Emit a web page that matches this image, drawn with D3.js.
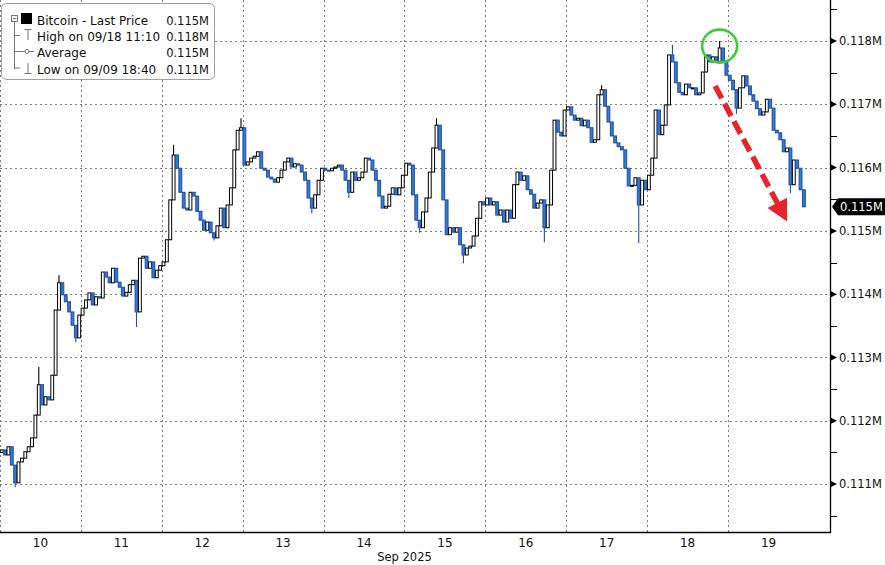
<!DOCTYPE html>
<html><head><meta charset="utf-8">
<script src="https://cdn.jsdelivr.net/npm/d3@7/dist/d3.min.js"></script>
<style>
body{margin:0;background:#fff}
svg{display:block}
text{font-family:"DejaVu Sans",Verdana,sans-serif;fill:#111}
</style>
</head><body>
<svg id="chart" width="885" height="565"></svg>
<script>
// ---------- data (prices in thousands of USD, hourly bars) ----------
const dayLabels = ["10","11","12","13","14","15","16","17","18","19"];
const monthLabel = "Sep 2025";
const firstOpen = 111.50;
const closes = [
111.54,111.46,111.59,111.30,111.02,111.35,111.41,111.51,111.59,111.73,112.09,112.57,
112.25,112.38,112.33,112.72,113.75,114.18,113.99,113.88,113.72,113.51,113.31,113.67,
113.78,113.91,114.02,113.83,113.96,113.94,114.35,114.27,114.18,114.41,114.19,114.11,
113.97,114.03,114.15,114.22,113.72,114.57,114.60,114.41,114.51,114.26,114.38,114.45,
114.51,114.86,115.49,116.20,115.99,115.61,115.36,115.33,115.61,115.55,115.31,115.17,
115.01,115.14,114.97,114.89,115.08,115.36,115.05,115.41,115.68,116.28,116.59,116.63,
116.04,116.09,116.15,116.18,116.25,115.99,115.96,115.85,115.82,115.77,115.84,115.96,
116.09,116.15,116.01,116.06,116.04,115.93,115.80,115.52,115.36,115.57,115.80,115.99,
115.96,115.95,115.99,116.01,116.04,115.96,115.80,115.61,115.93,115.80,115.84,115.93,
116.15,116.12,115.96,115.80,115.55,115.36,115.39,115.58,115.68,115.57,115.68,115.88,
116.07,116.04,115.57,115.17,115.05,115.30,115.52,115.93,116.31,116.67,116.28,115.49,
114.94,115.05,114.98,115.05,114.78,114.62,114.73,114.76,114.92,115.20,115.46,115.41,
115.52,115.41,115.46,115.25,115.33,115.14,115.33,115.20,115.73,115.93,115.80,115.87,
115.65,115.58,115.36,115.44,115.49,115.05,115.41,115.96,116.75,116.56,116.50,116.91,
116.96,116.83,116.75,116.78,116.66,116.75,116.63,116.40,116.44,117.15,117.23,116.97,
116.72,116.50,116.39,116.33,116.28,115.99,115.71,115.72,115.84,115.41,115.80,115.65,
115.88,116.15,116.91,116.52,116.67,116.99,117.78,117.67,117.34,117.19,117.15,117.32,
117.26,117.26,117.15,117.18,117.51,117.78,117.67,117.75,117.67,117.89,117.67,117.46,
117.38,117.23,116.94,117.26,117.45,117.29,117.15,117.05,116.93,116.83,116.88,117.08,
116.94,116.59,116.55,116.44,116.25,116.31,115.73,116.12,115.99,115.65,115.38
];
// bars with visible wicks beyond the body
const spikeIdx  = [4, 11, 17, 22, 40, 51, 63, 71, 92, 103, 124, 129, 137, 161, 178, 189, 199, 213, 218, 234];
const spikeHigh = [null,112.85,114.30,null,null,116.36,null,116.78,null,null,null,116.78,null,null,117.30,null,117.94,118.00,null,null];
const spikeLow  = [110.95,null,null,113.24,113.48,null,114.85,null,115.28,115.52,114.97,null,114.49,114.82,null,114.81,null,null,116.85,115.60];
const yTickValues = [111,112,113,114,115,116,117,118];
const yMinorValues = [110.5,111.5,112.5,113.5,114.5,115.5,116.5,117.5,118.5];
const lastPrice = 115.38;
const legendNames  = ["Bitcoin - Last Price","High on 09/18 11:10","Average","Low on 09/09 18:40"];
const legendValues = ["0.115M","0.118M","0.115M","0.111M"];
const circleAt = [213, 117.92];      // bar index, price
const arrowFrom = [8.84, 117.29];    // days, price
const arrowTo   = [9.73, 115.15];

// ---------- build ----------
const bars = closes.map((c,i)=>{
  const o = i===0 ? firstOpen : closes[i-1];
  let h = Math.max(o,c), l = Math.min(o,c);
  const k = spikeIdx.indexOf(i);
  if(k>=0){ if(spikeHigh[k]!=null) h=Math.max(h,spikeHigh[k]); if(spikeLow[k]!=null) l=Math.min(l,spikeLow[k]); }
  return {t:(i+0.5)/24, o, h, l, c};
});

const plotR = 830, plotB = 532;
const svg = d3.select("#chart");
const x = d3.scaleLinear().domain([0, 10.26]).range([0, plotR]);
const y = d3.scaleLinear().domain([110.243, 118.648]).range([plotB, 0]);
const fmt = v => (v/1000).toFixed(3) + "M";

// grid
const grid = svg.append("g").attr("stroke","#7d7d7d").attr("stroke-width",1).attr("stroke-dasharray","2,3");
grid.selectAll("line.h").data(yTickValues).join("line")
  .attr("x1",0).attr("x2",plotR).attr("y1",d=>Math.round(y(d))+0.5).attr("y2",d=>Math.round(y(d))+0.5);
grid.selectAll("line.v").data(d3.range(0,10)).join("line")
  .attr("y1",0).attr("y2",plotB).attr("x1",d=>Math.round(x(d))+0.5).attr("x2",d=>Math.round(x(d))+0.5);

// candles
const bw = (x(1/24)-x(0))*0.85;
const up = "#000", downFill = "#3279d8", downStroke = "#1f4f9e";
const cg = svg.append("g");
cg.selectAll("line.w").data(bars).join("line")
  .attr("x1",d=>x(d.t)).attr("x2",d=>x(d.t))
  .attr("y1",d=>y(d.h)).attr("y2",d=>y(d.l))
  .attr("stroke",d=>d.c>=d.o?up:downStroke).attr("stroke-width",1.1);
cg.selectAll("rect").data(bars).join("rect")
  .attr("x",d=>x(d.t)-bw/2).attr("width",bw)
  .attr("y",d=>y(Math.max(d.o,d.c)))
  .attr("height",d=>Math.max(Math.abs(y(d.o)-y(d.c)),1))
  .attr("fill",d=>d.c>=d.o?"#fff":downFill)
  .attr("stroke",d=>d.c>=d.o?up:downStroke).attr("stroke-width",1);

// axes lines
svg.append("line").attr("x1",plotR+0.5).attr("x2",plotR+0.5).attr("y1",0).attr("y2",plotB+1).attr("stroke","#000").attr("stroke-width",1.3);
svg.append("line").attr("x1",0).attr("x2",plotR+1).attr("y1",plotB+0.5).attr("y2",plotB+0.5).attr("stroke","#000").attr("stroke-width",1.3);

// y ticks
const yt = svg.append("g");
yt.selectAll("path").data(yTickValues).join("path")
  .attr("d",d=>{const yy=y(d);return `M${plotR+1},${yy-3} L${plotR+7},${yy} L${plotR+1},${yy+3} Z`;})
  .attr("fill","#000");
yt.selectAll("text").data(yTickValues).join("text")
  .attr("x",plotR+9).attr("y",d=>y(d)).attr("dy","0.36em")
  .attr("font-size","11.5px").text(d=>fmt(d));
yt.selectAll("line").data(yMinorValues).join("line")
  .attr("x1",plotR+1).attr("x2",plotR+7).attr("y1",d=>Math.round(y(d))+0.5).attr("y2",d=>Math.round(y(d))+0.5)
  .attr("stroke","#000");

// x labels
svg.append("g").selectAll("text").data(dayLabels).join("text")
  .attr("x",(d,i)=>x(i+0.5)).attr("y",547).attr("text-anchor","middle")
  .attr("font-size","12px").text(d=>d);
svg.append("text").attr("x",x(5)).attr("y",561).attr("text-anchor","middle")
  .attr("font-size","11.5px").text(monthLabel);

// last price tag
const ly = y(lastPrice);
svg.append("path")
  .attr("d",`M${plotR+2},${ly} L${plotR+8},${ly-8.5} L885,${ly-8.5} L885,${ly+8.5} L${plotR+8},${ly+8.5} Z`)
  .attr("fill","#000");
svg.append("text").attr("x",plotR+10).attr("y",ly).attr("dy","0.36em")
  .attr("font-size","11.5px").style("fill","#fff").text(fmt(lastPrice));

// annotations
svg.append("ellipse").attr("cx",x((circleAt[0]+0.5)/24)).attr("cy",y(circleAt[1]))
  .attr("rx",17.5).attr("ry",16.5).attr("fill","none").attr("stroke","#3fcc3a").attr("stroke-width",2.6);
{
  const x1=x(arrowFrom[0]), y1=y(arrowFrom[1]), x2=x(arrowTo[0]), y2=y(arrowTo[1]);
  const dx=x2-x1, dy=y2-y1, L=Math.hypot(dx,dy), ux=dx/L, uy=dy/L;
  const hl=21, hw=11;
  const bx=x2-ux*hl, by=y2-uy*hl;
  svg.append("line").attr("x1",x1).attr("y1",y1).attr("x2",bx+ux*2).attr("y2",by+uy*2)
    .attr("stroke","#e8232a").attr("stroke-width",5.5).attr("stroke-dasharray","14,6");
  svg.append("path")
    .attr("d",`M${x2},${y2} L${bx-uy*hw},${by+ux*hw} L${bx+uy*hw},${by-ux*hw} Z`)
    .attr("fill","#e8232a");
}

// legend
const lg = svg.append("g");
lg.append("rect").attr("x",1.5).attr("y",3.5).attr("width",213).attr("height",76).attr("rx",5)
  .attr("fill","#fff").attr("stroke","#a0a0a0");
const rowY = [25,41,57,73.5];
lg.append("line").attr("x1",14.5).attr("x2",14.5).attr("y1",21).attr("y2",69.5).attr("stroke","#777");
[1,2,3].forEach(i=>lg.append("line").attr("x1",14.5).attr("x2",20).attr("y1",rowY[i]-5.5).attr("y2",rowY[i]-5.5).attr("stroke","#777"));
lg.append("rect").attr("x",11.5).attr("y",15.5).attr("width",6).attr("height",6).attr("fill","#fff").attr("stroke","#777");
lg.append("line").attr("x1",13).attr("x2",16.5).attr("y1",18.5).attr("y2",18.5).attr("stroke","#777");
lg.append("rect").attr("x",21).attr("y",13).attr("width",11).attr("height",11).attr("fill","#000");
lg.append("path").attr("d","M24.5,29.5 H31.5 M28,29.5 V40").attr("stroke","#777").attr("fill","none");
lg.append("path").attr("d","M20,51.5 H34").attr("stroke","#777");
lg.append("circle").attr("cx",27).attr("cy",51.5).attr("r",2).attr("fill","#fff").attr("stroke","#777");
lg.append("path").attr("d","M28,63 V73.5 M24.5,73.5 H31.5").attr("stroke","#777").attr("fill","none");
lg.selectAll("text.n").data(legendNames).join("text")
  .attr("x",37).attr("y",(d,i)=>rowY[i]).attr("font-size","12px").text(d=>d);
lg.selectAll("text.v").data(legendValues).join("text")
  .attr("x",209).attr("y",(d,i)=>rowY[i]).attr("text-anchor","end").attr("font-size","11.5px").text(d=>d);
</script>
</body></html>
